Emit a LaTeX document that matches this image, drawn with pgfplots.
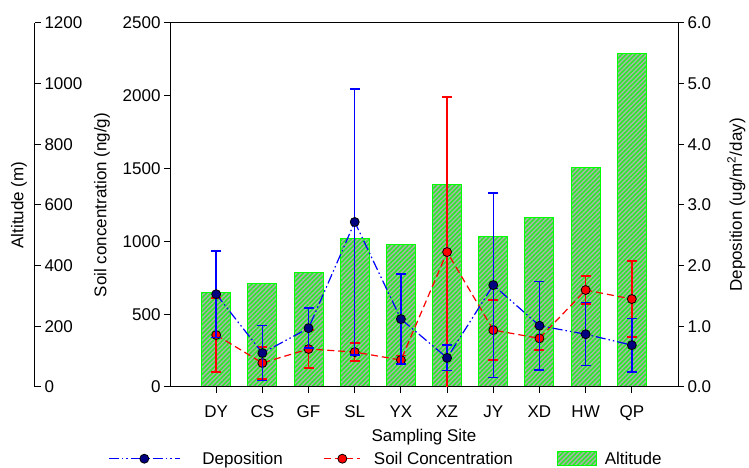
\documentclass[border=0pt]{standalone}
\usepackage{pgfplots}
\pgfplotsset{compat=1.18}
\usepackage{pgfplotstable}
\usepackage{fontspec}
\setmainfont{Liberation Sans}
\usetikzlibrary{patterns.meta}
\definecolor{barfill}{RGB}{176,176,176}
\definecolor{hatch}{RGB}{40,235,40}
\definecolor{bargreen}{RGB}{0,255,0}
\definecolor{navy}{RGB}{0,0,128}
\definecolor{depblue}{RGB}{0,0,255}
\definecolor{soilred}{RGB}{255,0,0}

\pgfplotsset{
  deplegend/.style={legend image code/.code={\draw[##1, mark repeat=2, mark phase=2] plot coordinates {(0pt,0pt) (35.5pt,0pt) (71pt,0pt)};}},
  soillegend/.style={legend image code/.code={\draw[##1, mark repeat=2, mark phase=2] plot coordinates {(0pt,0pt) (18pt,0pt) (36pt,0pt)};}},
  altlegend/.style={legend image code/.code={\draw[##1] (0pt,-7pt) rectangle (39pt,7pt);}},
}

\pgfplotstableread{
x alt
0 310
1 340
2 376
3 491
4 471
5 669
6 495
7 560
8 722
9 1101
}\alttable

% deposition: mean, lower and upper error limits
\pgfplotstableread{
x dep lo hi
0 1.53 0.82 2.24
1 0.56 0.11 1.01
2 0.97 0.64 1.30
3 2.72 0.53 4.91
4 1.12 0.38 1.86
5 0.48 0.27 0.69
6 1.68 0.16 3.20
7 1.01 0.28 1.74
8 0.87 0.35 1.39
9 0.69 0.25 1.13
}\deptable

% deposition error bar segments (low, high, break)
\pgfplotstableread{
x y
0 0.82
0 2.24
0 nan
1 0.11
1 1.01
1 nan
2 0.64
2 1.30
2 nan
3 0.53
3 4.91
3 nan
4 0.38
4 1.86
4 nan
5 0.27
5 0.69
5 nan
6 0.16
6 3.20
6 nan
7 0.28
7 1.74
7 nan
8 0.35
8 1.39
8 nan
9 0.25
9 1.13
}\depsegs

\pgfplotstableread{
x soil err
0 357 255
1 165 110
2 261 130
3 240 62
4 185 30
5 927 1065
6 391 206
7 334 80
8 666 96
9 604 261
}\soiltable

\begin{document}
\begin{tikzpicture}[font=\fontsize{17}{20}\selectfont]
\path[use as bounding box] (0,0) rectangle (749pt,468pt);
\pgfplotsset{
  every axis/.append style={
    scale only axis, width=508pt, height=364pt,
    at={(170pt,81pt)}, anchor=south west,
    xmin=-1, xmax=10,
    tick align=outside, major tick length=6pt,
    /pgf/number format/assume math mode=true,
    /pgf/number format/1000 sep={},
    tick label style={font=\fontsize{17}{20}\selectfont},
    label style={font=\fontsize{17}{20}\selectfont},
    axis line style={line width=1pt},
    tick style={line width=1pt, black},
  }
}
% bars (altitude)
\begin{axis}[ymin=0, ymax=1200, hide axis]
\addplot[ybar, bar width=29pt, draw=bargreen, line width=1pt,
  preaction={fill=barfill},
  pattern={Lines[angle=45,distance=3.2pt,line width=1.6pt]}, pattern color=hatch]
  table[x=x,y=alt]{\alttable};
\end{axis}
% soil concentration (left)
\begin{axis}[ymin=0, ymax=2500, ytick={0,500,...,2500},
  xtick={0,...,9}, xticklabels={DY,CS,GF,SL,YX,XZ,JY,XD,HW,QP},
  xtick pos=left, ytick pos=left,
  xticklabel style={yshift=-9pt},
  xlabel={Sampling Site}, ylabel={Soil concentration (ng/g)},
  xlabel style={at={(axis description cs:0.5,0)}, anchor=base, yshift=-55pt},
  ylabel style={at={(axis description cs:0,0.5)}, anchor=south, inner sep=0pt, yshift=60pt},
  legend columns=3,
  legend style={at={(axis description cs:-0.122,-0.197)}, anchor=west, draw=none, fill=none, inner sep=0pt,
    font=\fontsize{17}{20}\selectfont,
    /tikz/column 1/.style={column sep=20pt},
    /tikz/column 2/.style={column sep=39pt},
    /tikz/column 3/.style={column sep=11pt},
    /tikz/column 4/.style={column sep=42pt},
    /tikz/column 5/.style={column sep=6pt}},
  legend cell align=left]
\addlegendimage{deplegend, color=depblue, line width=1.2pt, dash pattern=on 10pt off 3pt on 1.5pt off 3pt on 1.5pt off 3pt,
  mark=*, mark size=4.5pt, mark options={solid, fill=navy, draw=black, line width=0.8pt}}
\addlegendentry{Deposition}
\addlegendimage{soillegend, color=soilred, line width=1.2pt, dash pattern=on 7pt off 4pt,
  mark=*, mark size=4.5pt, mark options={solid, fill=soilred, draw=black, line width=0.8pt}}
\addlegendentry{Soil Concentration}
\addlegendimage{altlegend, draw=bargreen, line width=1pt, preaction={fill=barfill},
  pattern={Lines[angle=45,distance=3.2pt,line width=1.6pt]}, pattern color=hatch}
\addlegendentry{Altitude}
% soil error bars
\addplot[forget plot, color=soilred, line width=1.4pt, mark=none, draw=none,
  error bars/.cd, y dir=both, y explicit,
  error bar style={solid, color=soilred, line width=1.4pt},
  error mark options={rotate=90, mark size=5pt, line width=1.4pt}]
  table[x=x, y=soil, y error=err]{\soiltable};
% soil line + markers
\addplot[forget plot, color=soilred, line width=1.2pt, dash pattern=on 7pt off 4pt,
  mark=*, mark size=4.5pt, mark options={solid, fill=soilred, draw=black, line width=0.8pt}]
  table[x=x, y=soil]{\soiltable};
\end{axis}
% deposition (right)
\begin{axis}[ymin=0, ymax=6, ytick={0,1,...,6}, axis y line*=right, axis x line=none,
  yticklabel style={/pgf/number format/.cd, fixed, fixed zerofill, precision=1},
  ylabel={Deposition (ug/m\textsuperscript{2}/day)},
  ylabel style={at={(axis description cs:1,0.5)}, anchor=north, inner sep=0pt, yshift=-49pt},
  unbounded coords=jump]
% error bar stems
\addplot[draw=depblue, line width=1.4pt, mark=none, solid]
  table[x=x, y=y]{\depsegs};
% error bar caps
\addplot[only marks, draw=depblue, mark=-, mark size=5pt, mark options={draw=depblue, line width=1.4pt}]
  table[x=x, y=lo]{\deptable};
\addplot[only marks, draw=depblue, mark=-, mark size=5pt, mark options={draw=depblue, line width=1.4pt}]
  table[x=x, y=hi]{\deptable};
% line + markers
\addplot[color=depblue, line width=1.2pt, dash pattern=on 10pt off 3pt on 1.5pt off 3pt on 1.5pt off 3pt,
  mark=*, mark size=4.5pt, mark options={solid, fill=navy, draw=black, line width=0.8pt}]
  table[x=x, y=dep]{\deptable};
\end{axis}
% altitude scale (far left)
\begin{axis}[at={(34pt,81pt)}, width=1pt, xmin=0, xmax=1, ymin=0, ymax=1200,
  ytick={0,200,...,1200}, axis y line*=right, axis x line=none,
  ylabel={Altitude (m)},
  ylabel style={at={(axis description cs:0,0.5)}, anchor=south, inner sep=0pt, yshift=7pt}]
\end{axis}
\end{tikzpicture}
\end{document}
